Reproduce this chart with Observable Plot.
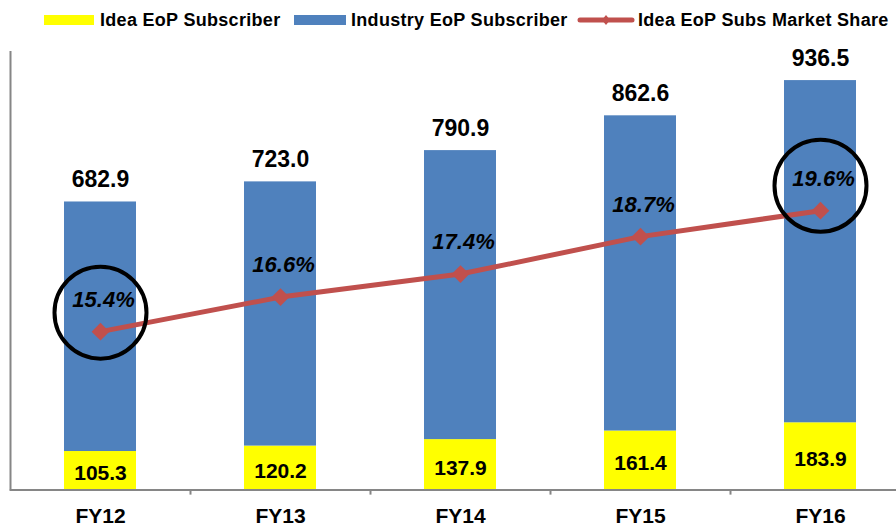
<!DOCTYPE html>
<html>
<head>
<meta charset="utf-8">
<script src="https://cdn.jsdelivr.net/npm/d3@7"></script>
<script src="https://cdn.jsdelivr.net/npm/@observablehq/plot@0.6"></script>
<style>
  html, body { margin: 0; padding: 0; background: #fff; }
  body { width: 896px; height: 527px; overflow: hidden; font-family: "Liberation Sans", Arial, sans-serif; }
  #legend { position: relative; height: 40px; width: 896px; font-weight: bold; font-size: 18px; letter-spacing: 0.3px; color: #000; }
  #legend .sw { position: absolute; }
  #legend .lb { position: absolute; top: 9px; line-height: 22px; white-space: nowrap; }
  #chart svg { display: block; overflow: visible; }
</style>
</head>
<body>
<div id="legend"></div>
<div id="chart"></div>
<script>
// ---- Data ----
const years = ["FY12", "FY13", "FY14", "FY15", "FY16"];
const ideaSubs = [105.3, 120.2, 137.9, 161.4, 183.9];
const industrySubs = [682.9, 723.0, 790.9, 862.6, 936.5];
const ideaShare = [15.4, 16.6, 17.4, 18.7, 19.6];
const highlighted = ["FY12", "FY16"];
const seriesNames = ["Idea EoP Subscriber", "Industry EoP Subscriber", "Idea EoP Subs Market Share"];

// ---- Styles ----
const YELLOW = "#FFFF00", BLUE = "#4F81BD", RED = "#C0504D", GRAY = "#868686";

// ---- Legend ----
const legend = document.getElementById("legend");
function addSwatch(left, html) {
  const d = document.createElement("div");
  d.className = "sw"; d.style.left = left + "px"; d.innerHTML = html; legend.appendChild(d);
}
function addLabel(left, text) {
  const d = document.createElement("div");
  d.className = "lb"; d.style.left = left + "px"; d.textContent = text; legend.appendChild(d);
}
addSwatch(44, `<div style="position:absolute;top:15px;width:50px;height:10px;background:${YELLOW}"></div>`);
addLabel(100, seriesNames[0]);
addSwatch(294, `<div style="position:absolute;top:15px;width:52px;height:10px;background:${BLUE}"></div>`);
addLabel(351, seriesNames[1]);
addSwatch(577, `<svg width="58" height="40" style="position:absolute;top:0"><line x1="3" x2="55" y1="20" y2="20" stroke="${RED}" stroke-width="5" stroke-linecap="round"/><path d="M29,15 L33,20 L29,25 L25,20 Z" fill="${RED}"/></svg>`);
addLabel(638, seriesNames[2]);

// ---- Tables ----
const stacked = [];
years.forEach((y, i) => {
  stacked.push({year: y, series: seriesNames[0], value: ideaSubs[i]});
  stacked.push({year: y, series: seriesNames[1], value: industrySubs[i]});
});
const rows = years.map((y, i) => ({year: y, idea: ideaSubs[i], industry: industrySubs[i], share: ideaShare[i]}));

// secondary axis (market share %) mapped onto primary units
const shareToY = d3.scaleLinear().domain([9.9, 25.13]).range([0, 1200]);

const W = 896, H = 487;
const chart = Plot.plot({
  width: W,
  height: H,
  marginLeft: 9.5,
  marginRight: 0,
  marginTop: 11,
  marginBottom: 37.5,
  style: {fontFamily: "'Liberation Sans', Arial, sans-serif", background: "transparent", overflow: "visible"},
  x: {domain: years, range: [9.5, 910], paddingInner: 0.6, paddingOuter: 0.3, label: null},
  y: {domain: [0, 1200], range: [449.5, 11], axis: null},
  color: {domain: seriesNames.slice(0, 2), range: [YELLOW, BLUE]},
  marks: [
    Plot.barY(stacked, {x: "year", y: "value", fill: "series"}),
    // axis lines & boundary ticks
    Plot.ruleY([0], {stroke: GRAY, strokeWidth: 2}),
    Plot.ruleX([years[0]], {x: d => d, y1: 0, y2: 1200, dx: -90, stroke: GRAY, strokeWidth: 2}),
    Plot.ruleX(years.slice(1), {x: d => d, y1: 0, y2: -14, dx: -90, stroke: GRAY, strokeWidth: 2}),
    Plot.axisX({tickSize: 0, tickPadding: 18, fontSize: 21, fontWeight: "bold", fill: "#000", label: null}),
    // value labels
    Plot.text(rows, {x: "year", y: d => d.idea + d.industry, text: d => d.industry.toFixed(1), dy: -22, fontSize: 23, fontWeight: "bold", fill: "#000"}),
    Plot.text(rows, {x: "year", y: d => d.idea / 2, text: d => d.idea.toFixed(1), dy: 3, fontSize: 21, fontWeight: "bold", fill: "#000"}),
    // market share line
    Plot.line(rows, {x: "year", y: d => shareToY(d.share), stroke: RED, strokeWidth: 5}),
    Plot.dot(rows, {x: "year", y: d => shareToY(d.share), symbol: "diamond2", r: 8, fill: RED, stroke: "none"}),
    Plot.text(rows, {x: "year", y: d => shareToY(d.share), text: d => d.share.toFixed(1) + "%", dy: -32, dx: 3, fontSize: 22, fontWeight: "bold", fontStyle: "italic", fill: "#000"}),
    // highlight circles
    Plot.dot(rows.filter(d => d.year === highlighted[0]), {x: "year", y: d => shareToY(d.share), r: 46, dy: -19, fill: "none", stroke: "#000", strokeWidth: 4}),
    Plot.dot(rows.filter(d => d.year === highlighted[1]), {x: "year", y: d => shareToY(d.share), r: 46, dy: -25, fill: "none", stroke: "#000", strokeWidth: 4})
  ]
});
document.getElementById("chart").appendChild(chart);
</script>
</body>
</html>
